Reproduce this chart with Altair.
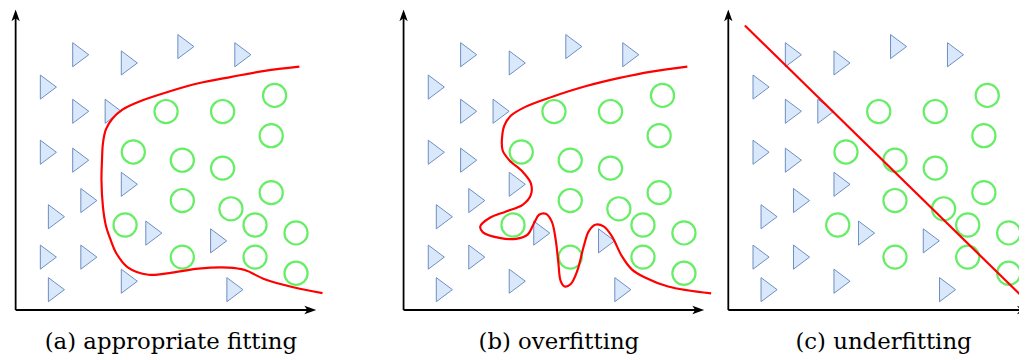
import altair as alt
import pandas as pd

# ---------------- data (panel-relative units: x right of origin, y above origin) -------------
PANELS = ["a", "b", "c"]
CAPTIONS = ["(a) appropriate fitting", "(b) overfitting", "(c) underfitting"]

TRI_X = [65.6, 114.6, 171.6, 229.0, 33.0, 65.6, 98.3, 33.0, 65.6, 114.6,
         73.8, 41.1, 139.3, 204.6, 33.0, 73.8, 41.1, 114.6, 221.0]
TRI_Y = [257.3, 249.0, 265.5, 257.3, 224.7, 200.3, 200.3, 159.0, 151.0, 126.7,
         110.3, 94.0, 77.5, 69.7, 53.3, 53.3, 20.5, 29.0, 20.5]

CIRC_X = [151.6, 208.6, 261.0, 257.6, 118.6, 168.0, 208.6, 257.6, 168.0, 217.0,
          110.3, 241.3, 282.6, 168.0, 241.3, 282.6]
CIRC_Y = [200.0, 200.0, 216.3, 175.7, 159.3, 151.0, 143.0, 118.3, 110.3, 102.0,
          85.7, 85.7, 77.7, 53.3, 53.3, 37.0]

FIT_X = [286, 251, 217.6, 184.3, 154, 124.3, 107.6, 97.6, 91, 88, 87, 86.5, 88, 91,
         96, 101, 113, 134, 157.6, 184.3, 214.3, 231, 251, 281, 309.3]
FIT_Y = [245.3, 241, 235, 228.5, 220, 210, 202, 193, 182, 168, 150, 131, 104, 85,
         70, 58, 43, 35.5, 37.7, 41.7, 42.7, 40.3, 31, 22.7, 17]

OVER_X = [286, 250, 216.6, 183.3, 150, 123.3, 108.3, 101.6, 99.3, 99.8, 106.6, 120,
          128.3, 128.3, 120, 103.3, 86.6, 77.3, 80, 96.6, 113.3, 125, 131.6, 136.6,
          143.3, 149.3, 153.3, 156, 158.3, 162.3, 168.3, 175, 181.6, 186.6, 193.3,
          201.6, 210, 220, 230, 243.3, 266.6, 310]
OVER_Y = [245.3, 240.3, 233.7, 225.5, 215, 205, 196, 186, 174.3, 161, 151, 139.3,
          127.7, 116, 106, 99.3, 92.7, 84.3, 78.3, 72.7, 71.7, 76, 87.7, 96, 97,
          89.3, 71, 47.7, 29.3, 23.7, 26, 39.3, 64.3, 79.3, 86, 84.3, 74.3, 54.3,
          41, 32.7, 23.7, 16.7]

UNDER_X = [16.7, 310]
UNDER_Y = [286.7, 0]

# ---------------- layout constants (page pixels) ----------------
ORIGIN_X = {"a": 15.7, "b": 406.7, "c": 734.0}
ORIGIN_Y = 311.0
AXIS_LEN = 297.0
CAPTION_DX = 156.5
CAPTION_BASE = 350.0

TRI_SHAPE = "M -0.667 -1 L 0.667 0 L -0.667 1 Z"
ARROW_UP = "M 0 -1 L 0.7 1 L 0 0.5 L -0.7 1 Z"
ARROW_RIGHT = "M 1 0 L -1 0.72 L -0.5 0 L -1 -0.72 Z"

rows_tri, rows_circ, rows_curve, rows_axis, rows_cap = [], [], [], [], []
curves = {"a": (FIT_X, FIT_Y), "b": (OVER_X, OVER_Y), "c": (UNDER_X, UNDER_Y)}
for p, cap in zip(PANELS, CAPTIONS):
    ox = ORIGIN_X[p]
    for x, y in zip(TRI_X, TRI_Y):
        rows_tri.append({"panel": p, "px": ox + x, "py": ORIGIN_Y - y})
    for x, y in zip(CIRC_X, CIRC_Y):
        rows_circ.append({"panel": p, "px": ox + x, "py": ORIGIN_Y - y})
    cx, cy = curves[p]
    for i, (x, y) in enumerate(zip(cx, cy)):
        rows_curve.append({"panel": p, "i": i, "px": ox + x, "py": ORIGIN_Y - y})
    rows_axis.append({"panel": p, "kind": "y", "px": ox, "px2": ox,
                      "py": ORIGIN_Y, "py2": ORIGIN_Y - AXIS_LEN})
    rows_axis.append({"panel": p, "kind": "x", "px": ox, "px2": ox + AXIS_LEN,
                      "py": ORIGIN_Y, "py2": ORIGIN_Y})
    rows_cap.append({"panel": p, "text": cap, "px": ox + CAPTION_DX, "py": CAPTION_BASE})

tri_df = pd.DataFrame(rows_tri)
circ_df = pd.DataFrame(rows_circ)
curve_df = pd.DataFrame(rows_curve)
axis_df = pd.DataFrame(rows_axis)
cap_df = pd.DataFrame(rows_cap)
up_df = pd.DataFrame([{"px": ORIGIN_X[p], "py": ORIGIN_Y - AXIS_LEN} for p in PANELS])
right_df = pd.DataFrame([{"px": ORIGIN_X[p] + AXIS_LEN, "py": ORIGIN_Y} for p in PANELS])

XS = alt.Scale(domain=[8, 1027], nice=False, zero=False)
YS = alt.Scale(domain=[8, 360], nice=False, zero=False, reverse=True)


def X(f="px"):
    return alt.X(f"{f}:Q", scale=XS, axis=None)


def Y(f="py"):
    return alt.Y(f"{f}:Q", scale=YS, axis=None)


tri = alt.Chart(tri_df).mark_point(
    shape=TRI_SHAPE, size=590, filled=True, fill="#dae8fc", stroke="#6c8ebf",
    strokeWidth=1, opacity=1, clip=True
).encode(x=X(), y=Y())

circ = alt.Chart(circ_df).mark_point(
    shape="circle", size=545, filled=False, stroke="#66ee66", strokeWidth=2.2,
    opacity=1, clip=True
).encode(x=X(), y=Y())

curve = alt.Chart(curve_df).mark_line(
    color="#ff0000", strokeWidth=2.2, interpolate="catmull-rom", clip=True
).encode(x=X(), y=Y(), order="i:Q", detail="panel:N")

axes = alt.Chart(axis_df).mark_rule(color="black", strokeWidth=1.8, clip=True).encode(
    x=X(), x2="px2:Q", y=Y(), y2="py2:Q"
)

arrow_up = alt.Chart(up_df).mark_point(
    shape=ARROW_UP, size=144, filled=True, fill="black", strokeWidth=0, opacity=1, clip=True
).encode(x=X(), y=Y())

arrow_right = alt.Chart(right_df).mark_point(
    shape=ARROW_RIGHT, size=144, filled=True, fill="black", strokeWidth=0, opacity=1, clip=True
).encode(x=X(), y=Y())

caps = alt.Chart(cap_df).mark_text(
    font="DejaVu Serif", fontSize=23, align="center", baseline="alphabetic", color="black"
).encode(x=X(), y=Y(), text="text:N")

chart = alt.layer(tri, circ, curve, axes, arrow_up, arrow_right, caps).properties(
    width=1019, height=352, padding=0, autosize=alt.AutoSizeParams(type="none")
).configure_view(stroke=None)

chart.save("out.html", embed_options={"renderer": "svg", "actions": False})
